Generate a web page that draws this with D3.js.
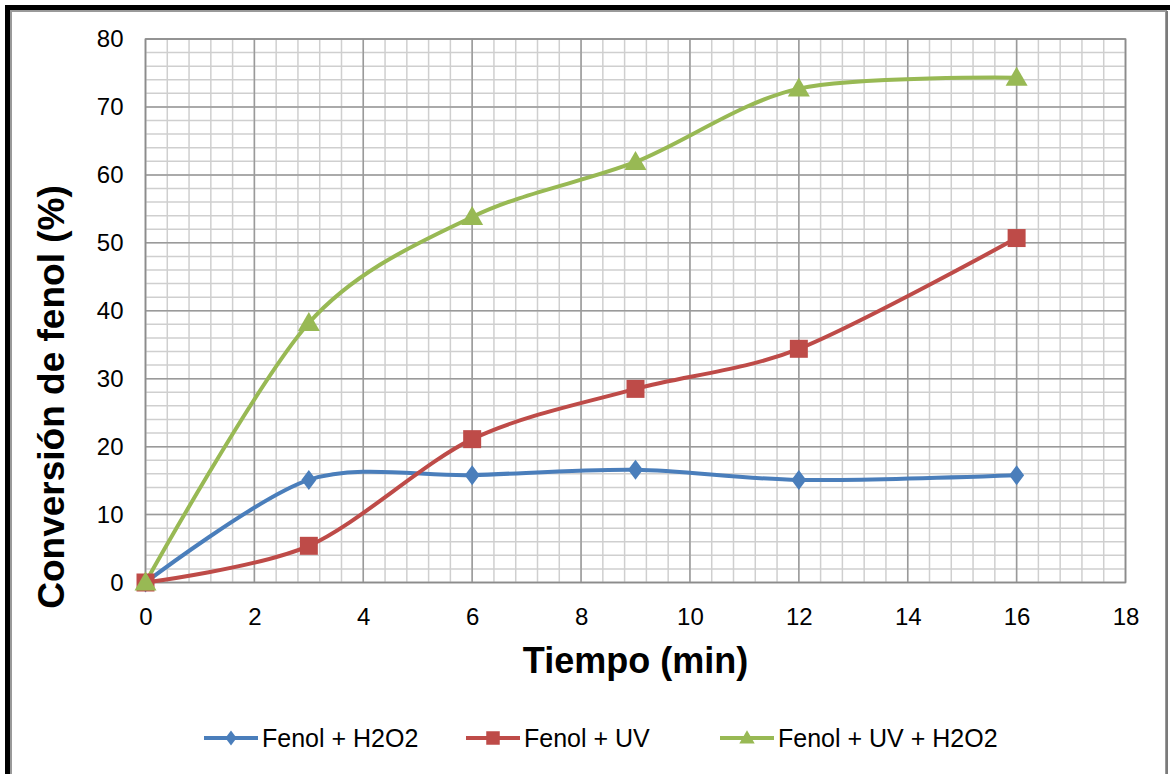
<!DOCTYPE html>
<html>
<head>
<meta charset="utf-8">
<script src="https://cdn.jsdelivr.net/npm/d3@7"></script>
<style>
  html, body { margin: 0; padding: 0; background: #fff; }
  svg { display: block; font-family: "Liberation Sans", Arial, sans-serif; }
</style>
</head>
<body>
<svg id="chart" width="1170" height="774"></svg>
<script>
// Reaction time (min)
const tiempos = [0, 3, 6, 9, 12, 16];
// Phenol conversion (%) for each treatment
const fenolH2O2 = [0, 15.1, 15.8, 16.6, 15.1, 15.8];
const fenolUV = [0, 5.4, 21.1, 28.5, 34.4, 50.7];
const fenolUVH2O2 = [0, 38.2, 53.8, 61.9, 72.7, 74.3];
const seriesNames = ["Fenol + H2O2", "Fenol + UV", "Fenol + UV + H2O2"];
const xTicks = [0, 2, 4, 6, 8, 10, 12, 14, 16, 18];
const yTicks = [0, 10, 20, 30, 40, 50, 60, 70, 80];

const colors = ["#4A7EBB", "#BE4B48", "#98B954"];
const markers = ["diamond", "square", "triangle"];

const svg = d3.select("#chart");

// Outer frame
svg.append("path").attr("d", "M7.5,774 V7.5 H1170").attr("fill", "none")
  .attr("stroke", "#000").attr("stroke-width", 5);
svg.append("path").attr("d", "M11,774 V11 H1166 V774").attr("fill", "none")
  .attr("stroke", "#9a9a9a").attr("stroke-width", 2);
svg.append("line").attr("x1", 1167).attr("x2", 1167).attr("y1", 11).attr("y2", 774)
  .attr("stroke", "#7a7a7a").attr("stroke-width", 2);

const plot = { left: 145.5, right: 1125.5, top: 39, bottom: 582.5 };
const x = d3.scaleLinear().domain([0, 18]).range([plot.left, plot.right]);
const y = d3.scaleLinear().domain([0, 80]).range([plot.bottom, plot.top]);

const g = svg.append("g");

// Minor grid
const minorX = d3.range(0, 18.0001, 0.4).map(v => +v.toFixed(2));
const minorY = d3.range(0, 80.0001, 2);
g.append("g").selectAll("line").data(minorX).join("line")
  .attr("x1", d => x(d)).attr("x2", d => x(d))
  .attr("y1", plot.top).attr("y2", plot.bottom)
  .attr("stroke", "#cfcfcf").attr("stroke-width", 1.5);
g.append("g").selectAll("line").data(minorY).join("line")
  .attr("x1", plot.left).attr("x2", plot.right)
  .attr("y1", d => y(d)).attr("y2", d => y(d))
  .attr("stroke", "#cfcfcf").attr("stroke-width", 1.5);

// Major grid
g.append("g").selectAll("line").data(xTicks).join("line")
  .attr("x1", d => x(d)).attr("x2", d => x(d))
  .attr("y1", plot.top).attr("y2", plot.bottom)
  .attr("stroke", "#9a9a9a").attr("stroke-width", 1.5);
g.append("g").selectAll("line").data(yTicks).join("line")
  .attr("x1", plot.left).attr("x2", plot.right)
  .attr("y1", d => y(d)).attr("y2", d => y(d))
  .attr("stroke", "#9a9a9a").attr("stroke-width", 1.5);

// Plot border
g.append("rect").attr("x", plot.left).attr("y", plot.top)
  .attr("width", plot.right - plot.left).attr("height", plot.bottom - plot.top)
  .attr("fill", "none").attr("stroke", "#8c8c8c").attr("stroke-width", 1.5);

// Axes (labels only)
const xAxis = d3.axisBottom(x).tickValues(xTicks).tickSize(0).tickPadding(0);
const yAxis = d3.axisLeft(y).tickValues(yTicks).tickSize(0).tickPadding(0);
const xa = svg.append("g").attr("transform", `translate(0,625)`).call(xAxis);
xa.select(".domain").remove();
xa.selectAll("text").attr("font-size", 24).attr("fill", "#000")
  .attr("font-family", "Liberation Sans, Arial, sans-serif").attr("y", 0).attr("dy", 0);
const ya = svg.append("g").attr("transform", `translate(${plot.left - 22},0)`).call(yAxis);
ya.select(".domain").remove();
ya.selectAll("text").attr("font-size", 24).attr("fill", "#000")
  .attr("font-family", "Liberation Sans, Arial, sans-serif");

// Axis titles
svg.append("text").attr("x", (plot.left + plot.right) / 2).attr("y", 673)
  .attr("text-anchor", "middle").attr("font-size", 36).attr("font-weight", "bold")
  .text("Tiempo (min)");
svg.append("text").attr("transform", `translate(64,397) rotate(-90)`)
  .attr("text-anchor", "middle").attr("font-size", 37).attr("font-weight", "bold")
  .text("Conversión de fenol (%)");

// Marker shapes
function markerPath(type) {
  if (type === "diamond") return "M0,-10 L7.5,0 L0,10 L-7.5,0 Z";
  if (type === "square") return "M-9,-9 H9 V9 H-9 Z";
  return "M0,-11 L11,8 L-11,8 Z";
}

const allSeries = [fenolH2O2, fenolUV, fenolUVH2O2];
const line = d3.line().x(d => x(d[0])).y(d => y(d[1])).curve(d3.curveCardinal.tension(0.1));

allSeries.forEach((vals, i) => {
  const pts = tiempos.map((t, k) => [t, vals[k]]);
  g.append("path").datum(pts).attr("d", line).attr("fill", "none")
    .attr("stroke", colors[i]).attr("stroke-width", 4).attr("stroke-linejoin", "round");
});
allSeries.forEach((vals, i) => {
  const pts = tiempos.map((t, k) => [t, vals[k]]);
  g.append("g").selectAll("path").data(pts).join("path")
    .attr("transform", d => `translate(${x(d[0])},${y(d[1])})`)
    .attr("d", markerPath(markers[i])).attr("fill", colors[i]);
});

// Legend
const legendX = [204, 466, 720];
const legend = svg.append("g");
seriesNames.forEach((name, i) => {
  const lg = legend.append("g").attr("transform", `translate(${legendX[i]},738)`);
  lg.append("line").attr("x1", 0).attr("x2", 54).attr("stroke", colors[i]).attr("stroke-width", 4);
  const s = markers[i] === "triangle" ? 0.7 : 0.75;
  lg.append("path").attr("d", markerPath(markers[i])).attr("fill", colors[i])
    .attr("transform", `translate(27,0) scale(${s})`);
  lg.append("text").attr("x", 58).attr("y", 0).attr("dy", "0.36em")
    .attr("font-size", 25).text(name);
});
</script>
</body>
</html>
